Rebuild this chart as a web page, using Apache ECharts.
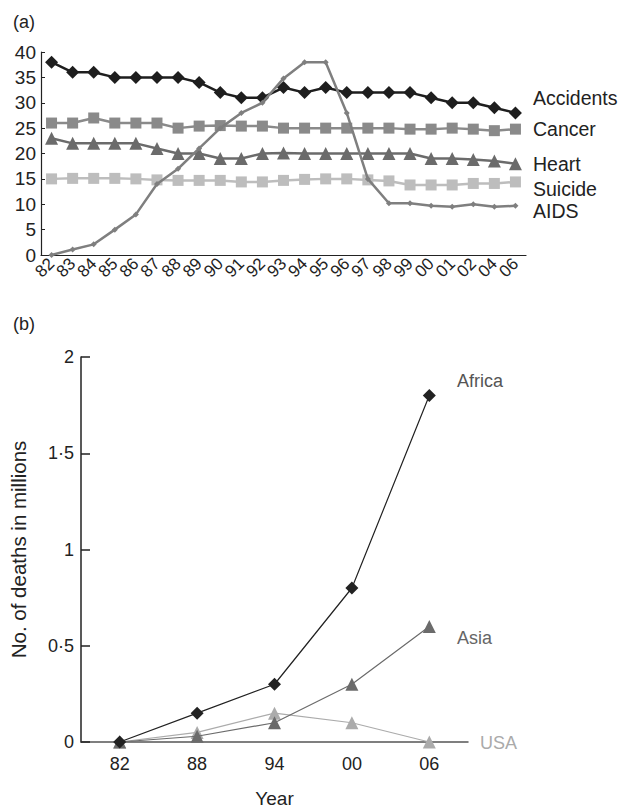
<!DOCTYPE html>
<html>
<head>
<meta charset="utf-8">
<script src="https://cdn.jsdelivr.net/npm/echarts@6/dist/echarts.min.js"></script>
<style>
html,body{margin:0;padding:0;background:#fff;}
#chart{width:635px;height:809px;}
</style>
</head>
<body>
<div id="chart"></div>
<script>
// ---- Panel (a) data ----
const yearsA = ['82','83','84','85','86','87','88','89','90','91','92','93','94','95','96','97','98','99','00','01','02','04','06'];
const accidents = [38,36,36,35,35,35,35,34,32,31,31,33,32,33,32,32,32,32,31,30,30,29,28];
const cancer    = [26,26,27,26,26,26,25,25.4,25.5,25.4,25.4,25,25,25,25,25,25,24.8,24.8,25,24.8,24.5,24.8];
const heart     = [23,22,22,22,22,21,20,20,19,19,20,20.1,20,20,20,20,20,20,19,19,18.8,18.5,18];
const suicide   = [15,15.1,15.1,15.1,15,14.8,14.7,14.7,14.7,14.4,14.4,14.7,14.9,15,15,14.8,14.6,13.8,13.8,13.8,14.1,14.1,14.4];
const aids      = [0,1.1,2.1,5,8,14,17,21,25,28,30,34.8,38,38,28,15,10.2,10.2,9.7,9.5,10,9.5,9.7];
const yTicksA = [0,5,10,15,20,25,30,35,40];

// ---- Panel (b) data ----
const yearsB = ['82','88','94','00','06'];
const africa = [0,0.15,0.3,0.8,1.8];
const asia   = [0,0.03,0.1,0.3,0.6];
const usa    = [0,0.05,0.15,0.1,0];
const yTicksB = [0,0.5,1,1.5,2];

const FONT = 'Liberation Sans, Arial, Helvetica, sans-serif';
const chart = echarts.init(document.getElementById('chart'), null, {renderer:'svg'});

function lineA(name, data, symbol, size, color, z){
  return {name, type:'line', xAxisIndex:0, yAxisIndex:0, data, symbol, symbolSize:size,
    showAllSymbol:true, z,
    lineStyle:{color, width:2.5}, itemStyle:{color}, emphasis:{disabled:true}};
}
function lineB(name, data, symbol, size, color, z){
  return {name, type:'line', xAxisIndex:1, yAxisIndex:1, data, symbol, symbolSize:size,
    showAllSymbol:true, z,
    lineStyle:{color, width:1.2}, itemStyle:{color}, emphasis:{disabled:true}};
}

const option = {
  animation:false,
  backgroundColor:'#fff',
  textStyle:{fontFamily:FONT},
  grid:[
    {left:41, top:52, width:485, height:203, containLabel:false},
    {left:79, top:357, width:389, height:391, containLabel:false}
  ],
  xAxis:[
    {type:'category', gridIndex:0, data:yearsA, boundaryGap:true,
     axisLine:{lineStyle:{color:'#222', width:1.2}},
     axisTick:{inside:true, length:5, lineStyle:{color:'#222'}},
     axisLabel:{rotate:45, interval:0, fontSize:17, color:'#222', margin:6, fontFamily:FONT},
     splitLine:{show:false}},
    {type:'category', gridIndex:1, data:yearsB, boundaryGap:true,
     name:'Year', nameLocation:'middle', nameGap:47,
     nameTextStyle:{fontSize:19, color:'#222', fontFamily:FONT},
     axisLine:{lineStyle:{color:'#555', width:1.5}},
     axisTick:{inside:true, length:7, lineStyle:{color:'#222'}},
     axisLabel:{fontSize:18, color:'#222', margin:13, fontFamily:FONT},
     splitLine:{show:false}}
  ],
  yAxis:[
    {type:'value', gridIndex:0, min:0, max:40, interval:5,
     axisLine:{show:true, lineStyle:{color:'#222', width:1.2}},
     axisTick:{show:true, inside:true, length:4, lineStyle:{color:'#222'}},
     axisLabel:{fontSize:19, color:'#222', margin:5, fontFamily:FONT,
       formatter:v => yTicksA.includes(v) ? String(v) : ''},
     splitLine:{show:false}},
    {type:'value', gridIndex:1, min:0, max:2, interval:0.5,
     name:'No. of deaths in millions', nameLocation:'middle', nameGap:52,
     nameTextStyle:{fontSize:20.5, color:'#222', fontFamily:FONT},
     axisLine:{show:true, lineStyle:{color:'#222', width:1.5}},
     axisTick:{show:true, inside:true, length:9, lineStyle:{color:'#222', width:1.5}},
     axisLabel:{fontSize:18, color:'#222', margin:7, fontFamily:FONT,
       formatter:v => yTicksB.includes(v) ? String(v).replace('.', '·') : ''},
     splitLine:{show:false}}
  ],
  series:[
    lineA('Suicide', suicide, 'rect', 11, '#bdbdbd', 2),
    lineA('Heart', heart, 'triangle', 13, '#6b6b6b', 3),
    lineA('Cancer', cancer, 'rect', 11, '#8a8a8a', 4),
    lineA('Accidents', accidents, 'diamond', 13, '#1e1e1e', 5),
    lineA('AIDS', aids, 'diamond', 6, '#7f7f7f', 6),
    lineB('USA', usa, 'triangle', 13, '#ababab', 2),
    lineB('Asia', asia, 'triangle', 13, '#6b6b6b', 3),
    lineB('Africa', africa, 'diamond', 13, '#222222', 4)
  ],
  graphic:[
    {type:'text', left:13, top:13, style:{text:'(a)', fontSize:18, fill:'#222', fontFamily:FONT}},
    {type:'text', left:13, top:315, style:{text:'(b)', fontSize:18, fill:'#222', fontFamily:FONT}},
    {type:'text', x:533, y:98, style:{text:'Accidents', fontSize:19.5, fill:'#222', fontFamily:FONT, verticalAlign:'middle'}},
    {type:'text', x:533, y:129, style:{text:'Cancer', fontSize:19.5, fill:'#222', fontFamily:FONT, verticalAlign:'middle'}},
    {type:'text', x:533, y:164, style:{text:'Heart', fontSize:19.5, fill:'#222', fontFamily:FONT, verticalAlign:'middle'}},
    {type:'text', x:533, y:189, style:{text:'Suicide', fontSize:19.5, fill:'#222', fontFamily:FONT, verticalAlign:'middle'}},
    {type:'text', x:533, y:211, style:{text:'AIDS', fontSize:19.5, fill:'#222', fontFamily:FONT, verticalAlign:'middle'}},
    {type:'text', x:457, y:381, style:{text:'Africa', fontSize:18, fill:'#555', fontFamily:FONT, verticalAlign:'middle'}},
    {type:'text', x:457, y:638, style:{text:'Asia', fontSize:18, fill:'#666', fontFamily:FONT, verticalAlign:'middle'}},
    {type:'text', x:480, y:743, style:{text:'USA', fontSize:18, fill:'#aaa', fontFamily:FONT, verticalAlign:'middle'}}
  ]
};
chart.setOption(option);
</script>
</body>
</html>
